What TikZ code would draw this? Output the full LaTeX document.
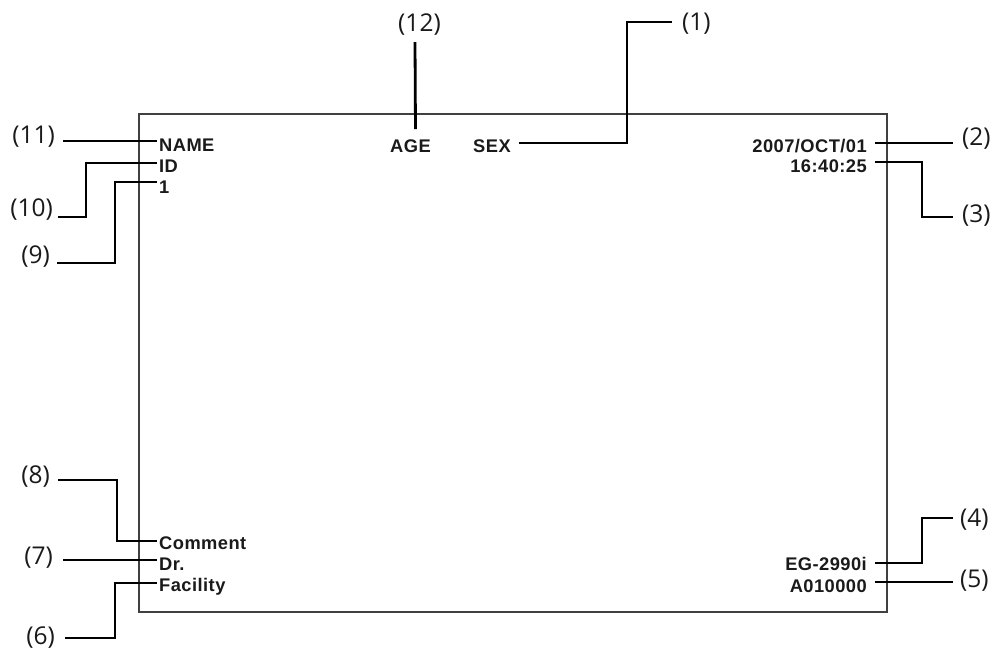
\documentclass[tikz,border=0pt]{standalone}
\usepackage{fontspec}
\setmainfont{Open Sans}
\newfontfamily\txtfont[LetterSpace=2.5]{Liberation Sans}
\definecolor{ink}{HTML}{1A1A1A}
\begin{document}
\begin{tikzpicture}[x=1pt,y=-1pt,
  txt/.style={font=\txtfont\bfseries\fontsize{18.3}{21}\selectfont, text=ink, inner xsep=2pt, inner ysep=0pt},
  lbl/.style={font=\fontsize{24.5}{28}\selectfont, text=ink, inner sep=0pt},
  conn/.style={line width=2.8pt, black, line cap=butt, line join=miter},
  frame/.style={line width=1.3pt, black!75}]
\useasboundingbox (0,0) rectangle (995,651);
% screen frame
\draw[frame] (139,114) rectangle (887,612);
% texts on screen
\node[txt, anchor=base west] (name) at (157,151) {NAME};
\node[txt, anchor=base west] (id) at (157,172) {ID};
\node[txt, anchor=base west] (one) at (157,193) {1};
\node[txt, anchor=base west] (age) at (388,152) {AGE};
\node[txt, anchor=base west] (sex) at (471,152) {SEX};
\node[txt, anchor=base east] (date) at (869,152) {2007/OCT/01};
\node[txt, anchor=base east] (time) at (869,172) {16:40:25};
\node[txt, anchor=base west] (comment) at (157,549) {Comment};
\node[txt, anchor=base west] (dr) at (157,570) {Dr.};
\node[txt, anchor=base west] (facility) at (157,591) {Facility};
\node[txt, anchor=base east] (eg) at (869,570) {EG-2990i};
\node[txt, anchor=base east] (serial) at (869,592) {A010000};
% callout labels
\node[lbl, anchor=west] (l1) at (682,24) {(1)};
\node[lbl, anchor=west] (l2) at (962,138.5) {(2)};
\node[lbl, anchor=west] (l3) at (962,216) {(3)};
\node[lbl, anchor=west] (l4) at (960,520) {(4)};
\node[lbl, anchor=west] (l5) at (960,581) {(5)};
\node[lbl, anchor=east] (l6) at (55,638) {(6)};
\node[lbl, anchor=east] (l7) at (53,557.5) {(7)};
\node[lbl, anchor=east] (l8) at (50,476.5) {(8)};
\node[lbl, anchor=east] (l9) at (50,257) {(9)};
\node[lbl, anchor=east] (l10) at (53,210) {(10)};
\node[lbl, anchor=east] (l11) at (55,137) {(11)};
\node[lbl] (l12) at (419.5,25) {(12)};
% connectors
\draw[conn] ([xshift=6pt,yshift=9pt]sex.base east) -| (627,22) -- ([xshift=-10pt,yshift=2pt]l1.west);
\draw[conn] ([xshift=6pt,yshift=9pt]date.base east) -- ([xshift=-9pt,yshift=-4.5pt]l2.west);
\draw[conn] ([xshift=6pt,yshift=10pt]time.base east) -| (922,217) -- ([xshift=-9pt,yshift=-1pt]l3.west);
\draw[conn] ([xshift=6pt,yshift=7pt]eg.base east) -| (922,518) -- ([xshift=-7pt,yshift=2pt]l4.west);
\draw[conn] ([xshift=6pt,yshift=10pt]serial.base east) -- ([xshift=-7pt,yshift=-1pt]l5.west);
\draw[conn] ([xshift=10pt,yshift=0pt]l6.east) -| (115,583) -- ([yshift=8pt]facility.base west);
\draw[conn] ([xshift=10pt,yshift=-2.5pt]l7.east) -- ([yshift=10pt]dr.base west);
\draw[conn] ([xshift=8pt,yshift=-3.5pt]l8.east) -| (117,541) -- ([yshift=8pt]comment.base west);
\draw[conn] ([xshift=7pt,yshift=-6pt]l9.east) -| (115,182) -- ([yshift=11pt]one.base west);
\draw[conn] ([xshift=5pt,yshift=-7pt]l10.east) -| (86,163) -- ([yshift=9pt]id.base west);
\draw[conn] ([xshift=8pt,yshift=-4pt]l11.east) -- ([yshift=10pt]name.base west);
\draw[conn] ([xshift=-4.5pt,yshift=-6pt]l12.south) -- ([xshift=5pt,yshift=10pt]age.north);
\end{tikzpicture}
\end{document}
